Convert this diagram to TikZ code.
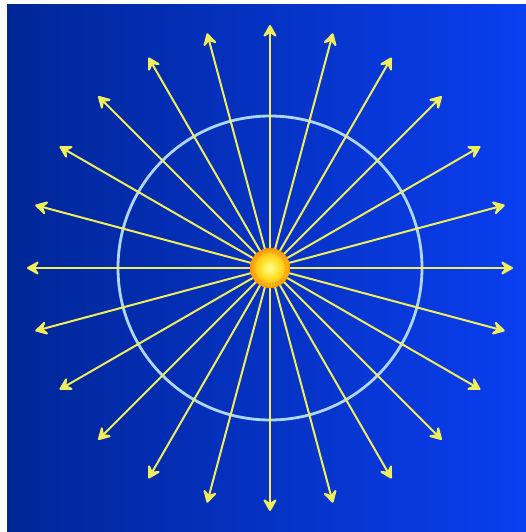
\documentclass[tikz,border=0pt]{standalone}
\usetikzlibrary{arrows.meta,shapes.geometric,calc}
\definecolor{bgleft}{RGB}{0,38,150}
\definecolor{bgright}{RGB}{10,62,240}
\definecolor{ray}{RGB}{240,238,90}
\definecolor{ringc}{RGB}{175,215,245}
\definecolor{sunin}{RGB}{255,255,150}
\definecolor{sunmid}{RGB}{255,225,40}
\definecolor{sunout}{RGB}{255,140,0}
\pgfdeclareradialshading{sunshade}{\pgfpoint{0bp}{0bp}}{%
  color(0bp)=(sunin); color(12bp)=(sunmid); color(20bp)=(sunmid!60!sunout); color(25bp)=(sunout); color(50bp)=(sunout)}
\tikzset{
  rayarrow/.style={draw=ray, line width=2pt, -{Stealth[length=15pt,width=17pt,inset=6pt,round]}},
  ring/.style={draw=ringc, line width=2.8pt},
  sunball/.style={circle, minimum size=40pt, inner sep=0pt, shading=sunshade}
}
\begin{document}
\begin{tikzpicture}[x=1pt,y=-1pt]
\useasboundingbox (0,0) rectangle (526,532);
\fill[white] (0,0) rectangle (526,532);
\shade[left color=bgleft, right color=bgright] (7,5) rectangle (526,532);
\coordinate (c) at (270,268);
\draw[ring] (c) circle (152);
\foreach \i in {0,...,23}{
  \coordinate (tip\i) at ($(c)+({15*\i}:243)$);
}
\foreach \i in {0,...,23}{
  \draw[rayarrow] (c) -- (tip\i);
}
\node[sunball] (sun) at (c) {};
\foreach \a in {0,10,...,350}{
  \fill[sunout!70!sunmid] ($(c)+(\a:21)$) -- ($(c)+(\a+4:15)$) -- ($(c)+(\a-4:15)$) -- cycle;
}
\end{tikzpicture}
\end{document}
